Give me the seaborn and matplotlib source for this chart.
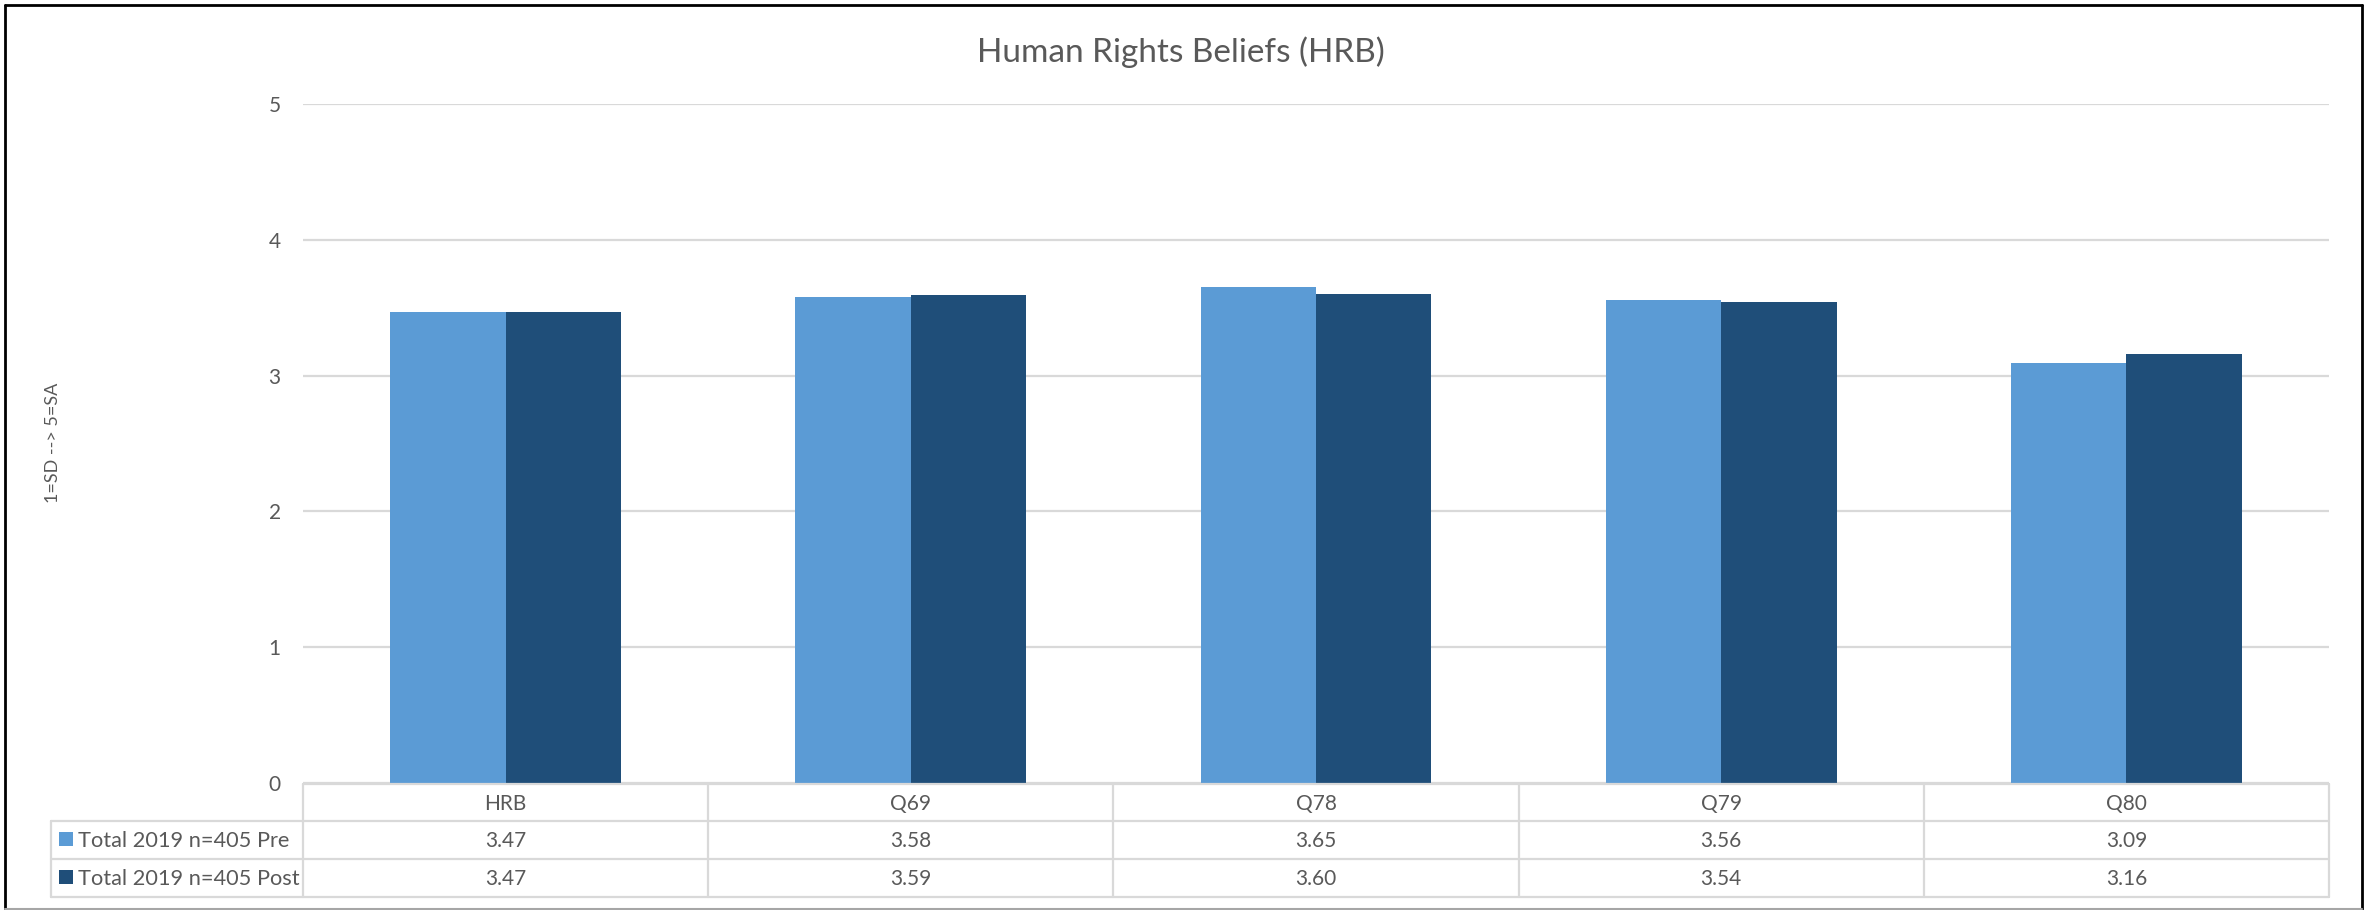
import matplotlib
matplotlib.use("Agg")
import matplotlib.pyplot as plt
import matplotlib.transforms as mtransforms
from matplotlib.lines import Line2D
from matplotlib.patches import Rectangle
import pandas as pd
import seaborn as sns

# ---- data -------------------------------------------------------------
items = ["HRB", "Q69", "Q78", "Q79", "Q80"]
series_names = ["Total 2019 n=405 Pre", "Total 2019 n=405 Post"]
pre_scores = [3.47, 3.58, 3.65, 3.56, 3.09]
post_scores = [3.47, 3.59, 3.60, 3.54, 3.16]
y_ticks = [0, 1, 2, 3, 4, 5]

title = "Human Rights Beliefs (HRB)"
y_label = "1=SD --> 5=SA"
colors = ["#5B9BD5", "#1F4E79"]
text_color = "#595959"
rule_color = "#D9D9D9"

df = pd.DataFrame({
    "item": items * 2,
    "score": pre_scores + post_scores,
    "series": [series_names[0]] * len(items) + [series_names[1]] * len(items),
})

# ---- style ------------------------------------------------------------
sns.set_style("white")
plt.rcParams["font.family"] = ["Lato", "DejaVu Sans"]

W, H, DPI = 2374, 910, 100
fig = plt.figure(figsize=(W / DPI, H / DPI), dpi=DPI)

# plot area in pixels
left_px, right_px, top_px, zero_px = 303, 2329, 104, 783
ax = fig.add_axes([left_px / W, 1 - zero_px / H,
                   (right_px - left_px) / W, (zero_px - top_px) / H])

sns.barplot(data=df, x="item", y="score", hue="series", order=items,
            hue_order=series_names, palette=colors, saturation=1,
            width=0.57, gap=0, dodge=True, legend=False, ax=ax,
            edgecolor="none", linewidth=0)

ax.set_xlim(-0.5, len(items) - 0.5)
ax.set_ylim(0, 5)
ax.set_yticks(y_ticks)
ax.set_yticklabels([str(t) for t in y_ticks])
ax.tick_params(axis="y", length=0, pad=16, labelsize=15, labelcolor=text_color)
ax.tick_params(axis="x", length=0, labelbottom=False)
ax.set_xlabel("")
ax.set_ylabel("")
for s in ax.spines.values():
    s.set_visible(False)
ax.yaxis.grid(True, color=rule_color, linewidth=1.6)
ax.set_axisbelow(True)

# title and axis caption
fig.text(1181 / W, 1 - 62 / H, title, ha="center", va="baseline",
         fontsize=24, color=text_color)
fig.text(53 / W, 1 - 443 / H, y_label, ha="center", va="center",
         rotation=90, fontsize=13, color=text_color)

# ---- data table under the plot -----------------------------------------
tr = mtransforms.blended_transform_factory(ax.transData, fig.transFigure)


def fy(px):
    return 1 - px / H


row_edges = [784, 821, 859, 897]
n = len(items)
lw = 1.6
x_lo, x_hi = -0.5, n - 0.5
legend_left = 51 / W
table_right = ax.transData.transform((x_hi, 0))[0] / W

# horizontal rules
fig.add_artist(Line2D([x_lo, x_hi], [fy(row_edges[0])] * 2, transform=tr,
                      color=rule_color, lw=lw))
for r in row_edges[1:]:
    fig.add_artist(Line2D([legend_left, table_right], [fy(r)] * 2,
                          transform=fig.transFigure, color=rule_color, lw=lw))

# vertical rules
for i in range(n + 1):
    fig.add_artist(Line2D([i - 0.5] * 2, [fy(row_edges[0]), fy(row_edges[-1])],
                          transform=tr, color=rule_color, lw=lw))
fig.add_artist(Line2D([legend_left] * 2, [fy(row_edges[1]), fy(row_edges[-1])],
                      transform=fig.transFigure, color=rule_color, lw=lw))

# header row and values
for i, name in enumerate(items):
    fig.text(i, fy(810), name, transform=tr, ha="center", va="baseline",
             fontsize=15, color=text_color)
    fig.text(i, fy(847), f"{pre_scores[i]:.2f}", transform=tr, ha="center",
             va="baseline", fontsize=15, color=text_color)
    fig.text(i, fy(885), f"{post_scores[i]:.2f}", transform=tr, ha="center",
             va="baseline", fontsize=15, color=text_color)

# legend keys inside the table
for name, col, base in zip(series_names, colors, [847, 885]):
    fig.add_artist(Rectangle((59 / W, fy(base - 1)), 14 / W, 14 / H,
                             transform=fig.transFigure, facecolor=col,
                             edgecolor="none"))
    fig.text(78 / W, fy(base), name, ha="left", va="baseline",
             fontsize=15.7, color=text_color)

# outer frame
fig.add_artist(Line2D([5 / W, 5 / W], [fy(5), fy(909)], transform=fig.transFigure,
                      color="black", lw=2))
fig.add_artist(Line2D([5 / W, 2362 / W], [fy(5), fy(5)], transform=fig.transFigure,
                      color="black", lw=2))
fig.add_artist(Line2D([2362 / W, 2362 / W], [fy(5), fy(909)], transform=fig.transFigure,
                      color="black", lw=2))
fig.add_artist(Line2D([5 / W, 2362 / W], [fy(909), fy(909)], transform=fig.transFigure,
                      color="#A6A6A6", lw=1.5))

fig.savefig("out.png", dpi=DPI, facecolor="white")
